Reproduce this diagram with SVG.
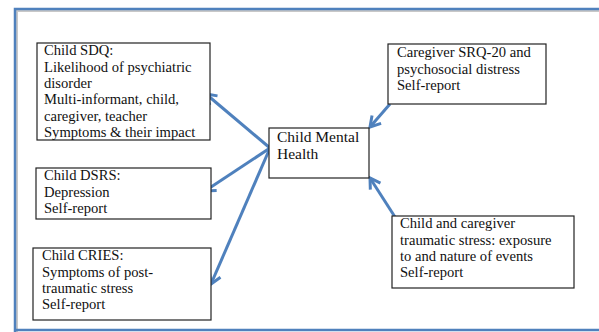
<svg xmlns="http://www.w3.org/2000/svg" width="599" height="332" viewBox="0 0 599 332">
<style>
.box{fill:#fff;stroke:#222;stroke-width:1.2}
.t{font-family:"Liberation Serif","DejaVu Serif",serif;font-size:14.6px;fill:#111}
.tb{font-family:"Liberation Serif","DejaVu Serif",serif;font-size:15.5px;fill:#111}
.c{stroke:#4f81bd;stroke-width:3;fill:none;marker-end:url(#ah)}
</style>
<defs>
<marker id="ah" markerUnits="userSpaceOnUse" markerWidth="16" markerHeight="16" refX="12" refY="8" orient="auto">
<path d="M2,2 L12,8 L2,14" fill="none" stroke="#4f81bd" stroke-width="3" stroke-linejoin="miter"/>
</marker>
</defs>
<rect width="599" height="332" fill="#fff"/>
<g id="frame">
<path d="M17,332 V11 H599" fill="none" stroke="#c8c8c8" stroke-width="2"/>
<path d="M15,332 V9 H599" fill="none" stroke="#4f81bd" stroke-width="2.5"/>
<path d="M15,330 H599" fill="none" stroke="#4f81bd" stroke-width="2.5"/>
</g>
<g id="connectors">
<line class="c" x1="270" y1="148" x2="206" y2="94"/>
<line class="c" x1="270" y1="148" x2="205" y2="191"/>
<line class="c" x1="270" y1="148" x2="211" y2="284"/>
<line class="c" x1="390" y1="104" x2="370" y2="127"/>
<line class="c" x1="395" y1="217" x2="370" y2="178"/>
</g>
<g id="sdq">
<rect class="box" x="37" y="43" width="173" height="97"/>
<text class="t" x="44" y="55">Child SDQ:</text>
<text class="t" x="44" y="71.5">Likelihood of psychiatric</text>
<text class="t" x="44" y="88">disorder</text>
<text class="t" x="44" y="104">Multi-informant, child,</text>
<text class="t" x="44" y="120.5">caregiver, teacher</text>
<text class="t" x="44" y="137">Symptoms &amp; their impact</text>
</g>
<g id="dsrs">
<rect class="box" x="36" y="168" width="175" height="51"/>
<text class="t" x="44" y="180">Child DSRS:</text>
<text class="t" x="44" y="197">Depression</text>
<text class="t" x="44" y="213">Self-report</text>
</g>
<g id="cries">
<rect class="box" x="33" y="248" width="178" height="72"/>
<text class="t" x="42" y="260">Child CRIES:</text>
<text class="t" x="42" y="277">Symptoms of post-</text>
<text class="t" x="42" y="293">traumatic stress</text>
<text class="t" x="42" y="309">Self-report</text>
</g>
<g id="cmh">
<rect class="box" x="269" y="128" width="100" height="50"/>
<text class="tb" x="277" y="142">Child Mental</text>
<text class="tb" x="277" y="159">Health</text>
</g>
<g id="srq">
<rect class="box" x="388" y="44" width="158" height="60"/>
<text class="t" x="397" y="57">Caregiver SRQ-20 and</text>
<text class="t" x="397" y="74">psychosocial distress</text>
<text class="t" x="397" y="90">Self-report</text>
</g>
<g id="trauma">
<rect class="box" x="392" y="216" width="182" height="72"/>
<text class="t" x="400" y="228">Child and caregiver</text>
<text class="t" x="400" y="244.5">traumatic stress: exposure</text>
<text class="t" x="400" y="261">to and nature of events</text>
<text class="t" x="400" y="277">Self-report</text>
</g>
</svg>
